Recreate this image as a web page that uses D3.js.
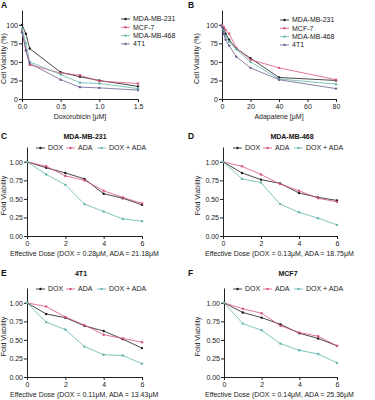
<!DOCTYPE html>
<html>
<head>
<meta charset="utf-8">
<script src="https://cdn.jsdelivr.net/npm/d3@7"></script>
<style>
  body { margin: 0; background: #fff; }
  svg { display: block; font-family: "Liberation Sans", Arial, sans-serif; }
</style>
</head>
<body>
<svg id="chart" width="375" height="400"></svg>
<script>
// panel A - doxorubicin dose response
let doxDoses = [0, 0.05, 0.1, 0.5, 0.75, 1.0, 1.5];
let doxMDA231 = [100, 88, 68, 36, 30, 25, 17];
let doxMCF7 = [92, 65, 46, 35, 32, 24, 21];
let doxMDA468 = [95, 75, 50, 33, 22, 21, 14];
let dox4T1 = [90, 66, 48, 26, 16, 15, 12];

// panel B - adapalene dose response
let adaDoses = [0, 1.25, 2.5, 5, 10, 20, 40, 80];
let adaMDA231 = [100, 95, 88, 80, 68, 55, 29, 25];
let adaMCF7 = [100, 97, 93, 88, 69, 53, 42, 26];
let adaMDA468 = [98, 92, 85, 77, 67, 50, 27, 20];
let ada4T1 = [97, 88, 80, 72, 57, 42, 26, 14];

let lineNames = ["MDA-MB-231", "MCF-7", "MDA-MB-468", "4T1"];
let viabilityTicks = [0, 25, 50, 75, 100];

// panels C-F - combination
let effDose = [0, 1, 2, 3, 4, 5, 6];
let comboNames = ["DOX", "ADA", "DOX + ADA"];
let foldTicks = [0, 0.25, 0.5, 0.75, 1.0];
let effTicks = [0, 2, 4, 6];

let c231Dox = [1, 0.92, 0.85, 0.77, 0.57, 0.51, 0.42];
let c231Ada = [1, 0.94, 0.81, 0.75, 0.61, 0.52, 0.44];
let c231Combo = [1, 0.83, 0.69, 0.43, 0.33, 0.23, 0.20];

let c468Dox = [1, 0.85, 0.76, 0.71, 0.58, 0.52, 0.48];
let c468Ada = [1, 0.94, 0.83, 0.70, 0.61, 0.51, 0.46];
let c468Combo = [1, 0.77, 0.72, 0.43, 0.32, 0.24, 0.15];

let c4T1Dox = [1, 0.85, 0.80, 0.69, 0.62, 0.51, 0.39];
let c4T1Ada = [1, 0.95, 0.81, 0.70, 0.57, 0.52, 0.47];
let c4T1Combo = [1, 0.74, 0.64, 0.41, 0.30, 0.29, 0.18];

let cMCF7Dox = [1, 0.87, 0.80, 0.71, 0.59, 0.52, 0.42];
let cMCF7Ada = [1, 0.92, 0.86, 0.69, 0.60, 0.55, 0.42];
let cMCF7Combo = [1, 0.72, 0.63, 0.45, 0.36, 0.31, 0.19];

let lineColors = ["#1a1a1a", "#d8557a", "#62b5ab", "#6e5f92"];
let comboColors = ["#1a1a1a", "#d8557a", "#62b5ab"];

let svg = d3.select("#chart");

function drawPanel(p) {
    let g = svg.append("g");
    let x = d3.scaleLinear().domain(p.xDomain).range([p.left, p.right]);
    let y = d3.scaleLinear().domain(p.yDomain).range([p.bottom, p.top]);

    // panel letter
    g.append("text").text(p.letter)
        .attr("x", p.letterX).attr("y", p.letterY)
        .attr("font-size", "8.5px").attr("font-weight", "bold").attr("fill", "#111");

    if (p.title) {
        g.append("text").text(p.title)
            .attr("x", p.titleX).attr("y", p.letterY)
            .attr("text-anchor", "middle")
            .attr("font-size", "7px").attr("font-weight", "bold").attr("fill", "#111");
    }

    let yAxis = g.append("g")
        .attr("transform", "translate(" + p.left + ",0)")
        .call(d3.axisLeft(y).tickValues(p.yTicks).tickFormat(p.yFormat).tickSize(3).tickSizeOuter(0));
    let xAxis = g.append("g")
        .attr("transform", "translate(0," + p.bottom + ")")
        .call(d3.axisBottom(x).tickValues(p.xTicks).tickFormat(p.xFormat).tickSize(3).tickSizeOuter(0));

    [xAxis, yAxis].forEach(function (a) {
        a.select(".domain").attr("stroke", "#222").attr("stroke-width", 1);
        a.selectAll(".tick line").attr("stroke", "#222").attr("stroke-width", 1);
        a.selectAll("text").attr("font-size", "7px").attr("fill", "#222")
            .attr("font-family", "Liberation Sans, Arial, sans-serif");
    });
    yAxis.selectAll("text").attr("x", -4);
    xAxis.selectAll("text").attr("y", 5);

    // axis titles
    g.append("text").text(p.xLabel)
        .attr("x", p.xLabelX).attr("y", p.bottom + 20)
        .attr("text-anchor", p.xLabelAnchor)
        .attr("font-size", "7px").attr("fill", "#222");
    g.append("text").text(p.yLabel)
        .attr("transform", "translate(" + p.yLabelX + "," + ((p.top + p.bottom) / 2 + 4) + ") rotate(-90)")
        .attr("text-anchor", "middle")
        .attr("font-size", "7px").attr("fill", "#222");

    let line = d3.line()
        .x(function (d) { return x(d[0]); })
        .y(function (d) { return y(d[1]); });

    p.series.forEach(function (vals, i) {
        let pts = p.xs.map(function (v, j) { return [v, vals[j]]; });
        g.append("path")
            .datum(pts)
            .attr("d", line)
            .attr("fill", "none")
            .attr("stroke", p.colors[i])
            .attr("stroke-width", 0.8);
        g.selectAll(".m" + i)
            .data(pts)
            .enter()
            .append("circle")
            .attr("cx", function (d) { return x(d[0]); })
            .attr("cy", function (d) { return y(d[1]); })
            .attr("r", 1.2)
            .attr("fill", p.colors[i]);
    });

    // legend
    p.names.forEach(function (name, i) {
        let lx = p.legend[i][0];
        let ly = p.legend[i][1];
        g.append("line")
            .attr("x1", lx).attr("x2", lx + 9)
            .attr("y1", ly).attr("y2", ly)
            .attr("stroke", p.colors[i]).attr("stroke-width", 0.8);
        g.append("circle")
            .attr("cx", lx + 4.5).attr("cy", ly).attr("r", 1.2)
            .attr("fill", p.colors[i]);
        g.append("text").text(name)
            .attr("x", lx + 12).attr("y", ly + 2.4)
            .attr("font-size", "7px").attr("fill", "#222");
    });
}

let fmtPct = d3.format("d");
let fmt1 = d3.format(".1f");
let fmt2 = d3.format(".2f");

function vertLegend(x0, y0) {
    return [0, 1, 2, 3].map(function (i) { return [x0, y0 + i * 8.3]; });
}

drawPanel({
    letter: "A", letterX: 1, letterY: 8,
    left: 22, right: 138, top: 10, bottom: 99,
    xDomain: [0, 1.5], yDomain: [0, 120],
    xTicks: [0, 0.5, 1.0, 1.5], yTicks: viabilityTicks,
    xFormat: fmt1, yFormat: fmtPct,
    xLabel: "Doxorubicin [\u03bcM]", xLabelX: 80, xLabelAnchor: "middle",
    yLabel: "Cell Viability (%)", yLabelX: 6,
    xs: doxDoses, series: [doxMDA231, doxMCF7, doxMDA468, dox4T1],
    names: lineNames, colors: lineColors,
    legend: vertLegend(121, 19)
});

drawPanel({
    letter: "B", letterX: 188, letterY: 8,
    left: 222, right: 336, top: 10, bottom: 99,
    xDomain: [0, 80], yDomain: [0, 120],
    xTicks: [0, 20, 40, 60, 80], yTicks: viabilityTicks,
    xFormat: fmtPct, yFormat: fmtPct,
    xLabel: "Adapalene [\u03bcM]", xLabelX: 279, xLabelAnchor: "middle",
    yLabel: "Cell Viability (%)", yLabelX: 199,
    xs: adaDoses, series: [adaMDA231, adaMCF7, adaMDA468, ada4T1],
    names: lineNames, colors: lineColors,
    legend: vertLegend(280, 20)
});

function comboLegend(x0, y0) {
    return [[x0, y0], [x0 + 30, y0], [x0 + 61, y0]];
}

drawPanel({
    letter: "C", letterX: 1, letterY: 139, title: "MDA-MB-231", titleX: 85,
    left: 27, right: 142, top: 147, bottom: 236,
    xDomain: [0, 6], yDomain: [0, 1.2],
    xTicks: effTicks, yTicks: foldTicks,
    xFormat: fmtPct, yFormat: fmt2,
    xLabel: "Effective Dose (DOX = 0.28\u03bcM, ADA = 21.18\u03bcM", xLabelX: 10, xLabelAnchor: "start",
    yLabel: "Fold Viability", yLabelX: 6,
    xs: effDose, series: [c231Dox, c231Ada, c231Combo],
    names: comboNames, colors: comboColors,
    legend: comboLegend(36, 148)
});

drawPanel({
    letter: "D", letterX: 188, letterY: 139, title: "MDA-MB-468", titleX: 292,
    left: 223, right: 337, top: 147, bottom: 236,
    xDomain: [0, 6], yDomain: [0, 1.2],
    xTicks: effTicks, yTicks: foldTicks,
    xFormat: fmtPct, yFormat: fmt2,
    xLabel: "Effective Dose (DOX = 0.13\u03bcM, ADA = 18.75\u03bcM", xLabelX: 205, xLabelAnchor: "start",
    yLabel: "Fold Viability", yLabelX: 200,
    xs: effDose, series: [c468Dox, c468Ada, c468Combo],
    names: comboNames, colors: comboColors,
    legend: comboLegend(233, 148)
});

drawPanel({
    letter: "E", letterX: 1, letterY: 276, title: "4T1", titleX: 81,
    left: 27, right: 142, top: 288, bottom: 377,
    xDomain: [0, 6], yDomain: [0, 1.2],
    xTicks: effTicks, yTicks: foldTicks,
    xFormat: fmtPct, yFormat: fmt2,
    xLabel: "Effective Dose (DOX = 0.11\u03bcM, ADA = 13.43\u03bcM", xLabelX: 10, xLabelAnchor: "start",
    yLabel: "Fold Viability", yLabelX: 6,
    xs: effDose, series: [c4T1Dox, c4T1Ada, c4T1Combo],
    names: comboNames, colors: comboColors,
    legend: comboLegend(36, 289)
});

drawPanel({
    letter: "F", letterX: 188, letterY: 276, title: "MCF7", titleX: 288,
    left: 224, right: 337, top: 288, bottom: 377,
    xDomain: [0, 6], yDomain: [0, 1.2],
    xTicks: effTicks, yTicks: foldTicks,
    xFormat: fmtPct, yFormat: fmt2,
    xLabel: "Effective Dose (DOX = 0.14\u03bcM, ADA = 25.36\u03bcM", xLabelX: 205, xLabelAnchor: "start",
    yLabel: "Fold Viability", yLabelX: 200,
    xs: effDose, series: [cMCF7Dox, cMCF7Ada, cMCF7Combo],
    names: comboNames, colors: comboColors,
    legend: comboLegend(233, 289)
});
</script>
</body>
</html>
